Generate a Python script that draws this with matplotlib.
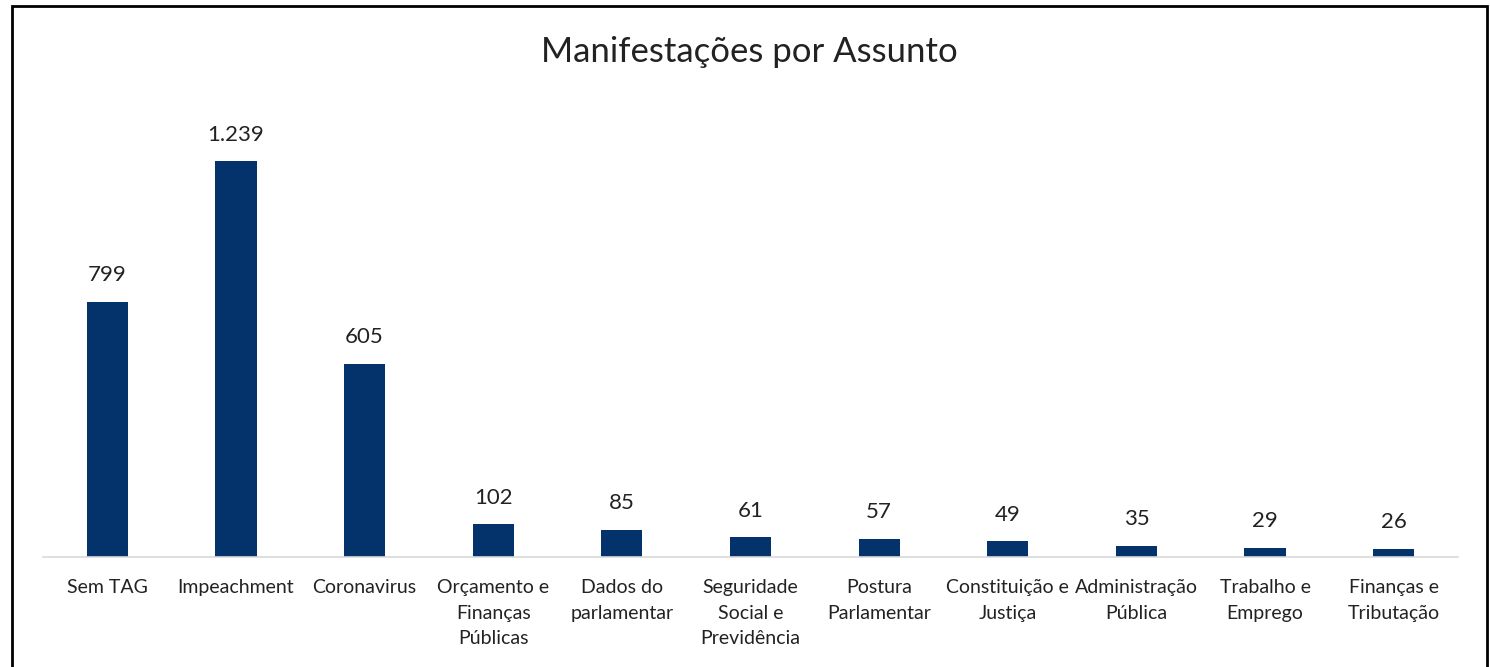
import matplotlib.pyplot as plt
import matplotlib.patches as patches
import numpy as np

categorias = ["Sem TAG", "Impeachment", "Coronavirus", "Orçamento e\nFinanças\nPúblicas",
              "Dados do\nparlamentar", "Seguridade\nSocial e\nPrevidência", "Postura\nParlamentar",
              "Constituição e\nJustiça", "Administração\nPública", "Trabalho e\nEmprego",
              "Finanças e\nTributação"]
valores = [799, 1239, 605, 102, 85, 61, 57, 49, 35, 29, 26]

cor = '#03336A'
plt.rcParams['font.family'] = ['Lato', 'DejaVu Sans']

fig = plt.figure(figsize=(14.9, 6.67), dpi=100)
ax = fig.add_axes([43 / 1490, 0.165, 1415 / 1490, 0.67])

x = np.arange(len(categorias))
barras = ax.bar(x, valores, width=0.32, color=cor)

# rotulos de dados com separador de milhar em ponto
for b, v in zip(barras, valores):
    txt = '{:,}'.format(v).replace(',', '.')
    ax.annotate(txt, (b.get_x() + b.get_width() / 2, b.get_height()),
                xytext=(0, 12), textcoords='offset points',
                ha='center', va='bottom', fontsize=16, color='#222222')

ax.set_xlim(-0.5, len(categorias) - 0.5)
ax.set_ylim(0, 1400)
ax.set_xticks(x)
ax.set_xticklabels(categorias, fontsize=14, linespacing=1.6, color='#222222')
ax.tick_params(axis='x', length=0, pad=16)
ax.set_yticks([])
for s in ['top', 'right', 'left']:
    ax.spines[s].set_visible(False)
ax.spines['bottom'].set_color('#D9D9D9')
ax.spines['bottom'].set_linewidth(1.2)

fig.text(0.503, 0.922, 'Manifestações por Assunto', ha='center', va='center',
         fontsize=25, color='#222222')

# moldura da figura
moldura = patches.Rectangle((12 / 1490, -0.02), 1475 / 1490, 1.02 - 6 / 667,
                            transform=fig.transFigure, fill=False,
                            edgecolor='black', linewidth=2)
fig.patches.append(moldura)

fig.savefig('out.png', dpi=100)
